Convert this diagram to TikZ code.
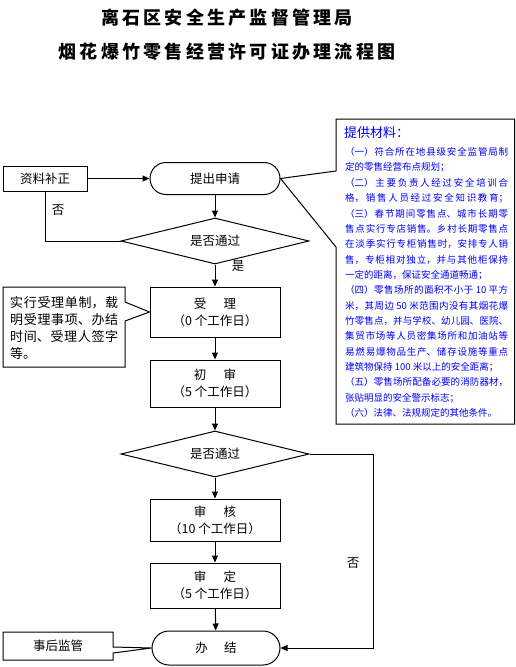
\documentclass[tikz,border=0pt]{standalone}
\usepackage{fontspec}
\setmainfont{Noto Sans CJK SC}
\newfontfamily\titlefont[LetterSpace=18]{Noto Sans CJK SC}
\XeTeXlinebreaklocale "zh"
\XeTeXlinebreakskip=0pt plus 2pt
\usetikzlibrary{shapes.geometric,arrows.meta}

\begin{document}
\begin{tikzpicture}[x=1pt, y=-1pt,
  line/.style={line width=1pt},
  arr/.style={line width=1pt, -{Triangle[length=7pt,width=6pt]}},
  flowbox/.style={draw, line width=1pt, minimum width=130, minimum height=46, align=center, font=\fontsize{12.5}{17}\selectfont},
  endbox/.style={draw, line width=1pt, rounded corners=16pt, minimum width=130, minimum height=32, font=\fontsize{12.5}{17}\selectfont},
  check/.style={draw, line width=1pt, diamond, aspect=4.1, minimum width=188, minimum height=46, inner sep=0, font=\fontsize{12.5}{17}\selectfont},
  note/.style={draw, line width=1pt},
  label/.style={font=\fontsize{12.5}{17}\selectfont}]

\useasboundingbox (0,0) rectangle (516,667);


% Title
\path
(227,18) node[font=\titlefont\fontsize{18}{18}\selectfont\bfseries] (title1) {离石区安全生产监督管理局}
(227,52) node[font=\titlefont\fontsize{18}{18}\selectfont\bfseries] (title2) {烟花爆竹零售经营许可证办理流程图};


% Main flow
\path
(215,178.5) node[endbox] (apply) {提出申请}
(215,241) node[check] (check1) {是否通过}
(215,312) node[flowbox, minimum height=50] (accept) {受\hspace{1.4em}理\\（0 个工作日）}
(215,383.5) node[flowbox, minimum height=47] (first) {初\hspace{1.4em}审\\（5 个工作日）}
(215,454) node[check] (check2) {是否通过}
(215,520) node[flowbox, minimum height=42] (review) {审\hspace{1.4em}核\\（10 个工作日）}
(215,585.5) node[flowbox, minimum height=45] (decide) {审\hspace{1.4em}定\\（5 个工作日）}
(216,648) node[endbox, minimum width=128, minimum height=34, rounded corners=17pt] (done) {办\hspace{1.3em}结};

\draw[arr] (apply) -- (check1);
\draw[arr] (check1) -- (accept);
\draw[arr] (accept) -- (first);
\draw[arr] (first) -- (check2);
\draw[arr] (check2) -- (review);
\draw[arr] (review) -- (decide);
\draw[arr] (decide) -- (done);


% Back to supplement
\path
(45,178.5) node[draw, line width=1pt, minimum width=84, minimum height=25, label] (fix) {资料补正};

\draw[arr] (fix) -- (apply);
\draw[line] (check1.west) -| (fix.south);

\path
(58,210) node[label] (no1) {否}
(238,266) node[label] (yes1) {是};


% Second check fails
\coordinate (backturn) at (373,454);
\draw[arr] (check2.east) -- (backturn) |- (done.east);

\path
(353,563) node[label] (no2) {否};


% Note on acceptance
\draw[note] (3,287) -- (125,287) -- (125,302) -- (accept.west) -- (125,321) -- (125,367) -- (3,367) -- cycle;
\path
(10,296.5) node[anchor=north west, inner sep=0, text width=108, align=justify, font=\fontsize{13}{17}\selectfont] (acceptnote) {实行受理单制，载明受理事项、办结时间、受理人签字等。};


% Note on supervision
\draw[note] (3,632) -- (113,632) -- (113,647) -- (done.west) -- (113,653) -- (113,660) -- (3,660) -- cycle;
\path
(58,646) node[label] (after) {事后监管};


% Materials
\draw[note] (336,119) -- (514.5,119) -- (514.5,424) -- (336,424) -- (336,247) -- (apply.east) -- (336,171) -- cycle;
\path
(344,133) node[anchor=west, inner sep=0, blue, font=\fontsize{13}{13}\selectfont] (mattitle) {提供材料：}
(345,147.3) node[anchor=north west, inner sep=0, text width=163, align=justify, blue, font=\fontsize{9.5}{15.35}\selectfont] (matlist) {%
（一）符合所在地县级安全监管局制\linebreak
定的零售经营布点规划；\newline
（二）主要负责人经过安全培训合\linebreak
格，销售人员经过安全知识教育；\linebreak
（三）春节期间零售点、城市长期零\linebreak
售点实行专店销售。乡村长期零售点\linebreak
在淡季实行专柜销售时，安排专人销\linebreak
售，专柜相对独立，并与其他柜保持\linebreak
一定的距离，保证安全通道畅通；\newline
（四）零售场所的面积不小于 10 平方\linebreak
米，其周边 50 米范围内没有其烟花爆\linebreak
竹零售点，并与学校、幼儿园、医院、\linebreak
集贸市场等人员密集场所和加油站等\linebreak
易燃易爆物品生产、储存设施等重点\linebreak
建筑物保持 100 米以上的安全距离；\newline
（五）零售场所配备必要的消防器材，\linebreak
张贴明显的安全警示标志；\newline
（六）法律、法规规定的其他条件。};


\end{tikzpicture}
\end{document}
